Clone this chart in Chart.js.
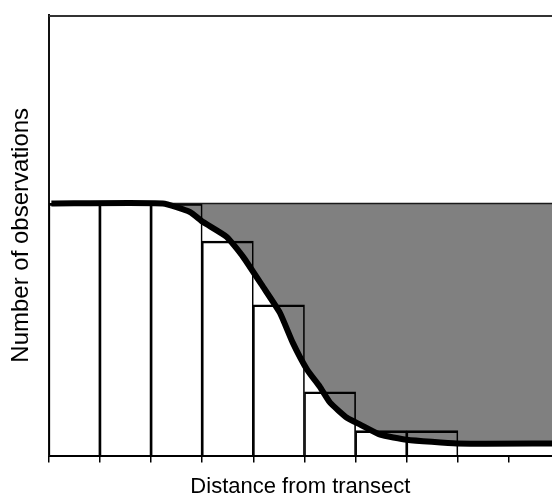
<!DOCTYPE html>
<html>
<head>
<meta charset="utf-8">
<script src="https://cdn.jsdelivr.net/npm/chart.js@4/dist/chart.umd.min.js"></script>
<style>
  html, body { margin: 0; padding: 0; background: #ffffff; }
  #wrap { width: 552px; height: 500px; }
</style>
</head>
<body>
<div id="wrap"><canvas id="detectChart"></canvas></div>
<script>
// Histogram of observations per distance bin (bin centres)
const binCentres = [0.5, 1.5, 2.5, 3.5, 4.5, 5.5, 6.5, 7.5, 8.5, 9.5];
const binCounts = [10, 10, 10, 8.51, 5.98, 2.53, 0.99, 0.99, 0, 0];

// Detection curve
const curveX = [0.05, 2.23, 2.76, 3.01, 3.48, 3.80, 4.19, 4.52, 4.77, 5.05, 5.30, 5.50, 5.83, 6.09, 6.48, 7.0, 7.98, 9.84];
const curveY = [10, 10, 9.66, 9.27, 8.67, 7.88, 6.69, 5.66, 4.48, 3.41, 2.73, 2.1, 1.5, 1.23, 0.83, 0.63, 0.48, 0.48];

// Level of full detection (top of the grey area)
const levelX = [2.2, 9.84];
const levelValue = 10;

const xMax = 9.84;
const yMax = 17.47;

// Draws the top frame line of the plot area
const topFrame = {
    id: 'topFrame',
    afterDraw(chart) {
        const {ctx, chartArea} = chart;
        ctx.save();
        ctx.strokeStyle = '#333333';
        ctx.lineWidth = 2;
        ctx.beginPath();
        ctx.moveTo(chartArea.left, chartArea.top + 1);
        ctx.lineTo(chartArea.right, chartArea.top + 1);
        ctx.stroke();
        ctx.restore();
    }
};

const ctx = document.getElementById('detectChart');
new Chart(ctx, {
    type: 'bar',
    data: {
        datasets: [
            {
                type: 'line',
                label: 'Detection',
                data: curveX.map((x, i) => ({x: x, y: curveY[i]})),
                borderColor: '#000000',
                borderWidth: 6,
                borderCapStyle: 'butt',
                pointRadius: 0,
                tension: 0.15,
                fill: {target: {value: levelValue}, above: 'rgba(0,0,0,0)', below: '#808080'},
                order: 0
            },
            {
                type: 'line',
                label: 'Level',
                data: levelX.map(x => ({x: x, y: levelValue})),
                borderColor: '#1a1a1a',
                borderWidth: 1.5,
                pointRadius: 0,
                fill: false,
                order: 1
            },
            {
                type: 'bar',
                label: 'Observations',
                data: binCentres.map((x, i) => ({x: x, y: binCounts[i]})),
                backgroundColor: 'rgba(0,0,0,0)',
                borderColor: '#000000',
                borderWidth: {top: 2, left: 1, right: 1, bottom: 0},
                borderSkipped: false,
                barPercentage: 1,
                categoryPercentage: 1,
                order: 2
            }
        ]
    },
    options: {
        responsive: true,
        maintainAspectRatio: false,
        animation: false,
        layout: {
            padding: {left: 7, top: 15, right: 0, bottom: 0}
        },
        plugins: {
            legend: {display: false},
            tooltip: {enabled: false},
            filler: {drawTime: 'beforeDatasetsDraw'}
        },
        scales: {
            x: {
                type: 'linear',
                min: 0,
                max: xMax,
                offset: false,
                ticks: {
                    display: false,
                    stepSize: 1,
                    includeBounds: false
                },
                grid: {
                    offset: false,
                    drawOnChartArea: false,
                    drawTicks: true,
                    tickLength: 7,
                    color: '#000000',
                    lineWidth: 1.5
                },
                border: {
                    display: true,
                    color: '#000000',
                    width: 2
                },
                title: {
                    display: true,
                    text: 'Distance from transect',
                    color: '#000000',
                    font: {family: 'Liberation Sans, Arial, sans-serif', size: 22},
                    padding: {top: 11, bottom: 0}
                }
            },
            y: {
                min: 0,
                max: yMax,
                ticks: {display: false},
                grid: {display: false, drawTicks: false},
                border: {
                    display: true,
                    color: '#111111',
                    width: 2
                },
                title: {
                    display: true,
                    text: 'Number of observations',
                    color: '#000000',
                    font: {family: 'Liberation Sans, Arial, sans-serif', size: 24},
                    padding: {top: 0, bottom: 13}
                }
            }
        }
    },
    plugins: [topFrame]
});
</script>
</body>
</html>
